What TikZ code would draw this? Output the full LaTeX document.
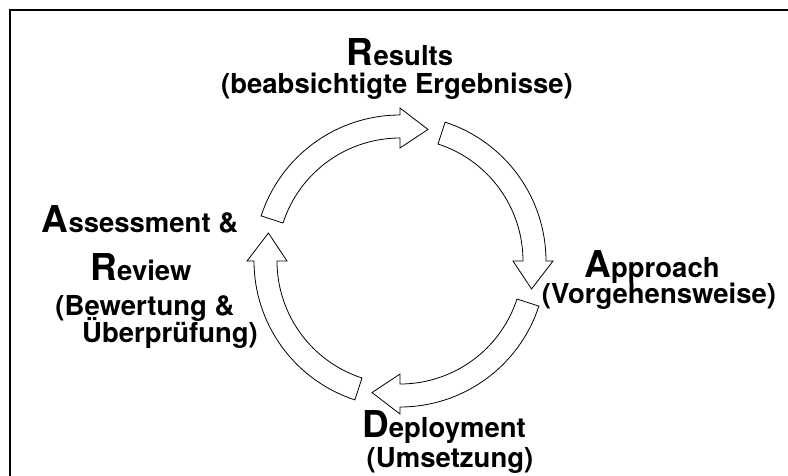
\documentclass[tikz,border=0pt]{standalone}
\usepackage{fontspec}
\setmainfont{texgyreheros}[Extension=.otf, UprightFont=*-regular, BoldFont=*-bold]
\newcommand{\bigini}[1]{{\fontsize{37}{37}\selectfont #1}}
% curved block arrow of the cycle: #1 = angle of its tail
\newcommand{\cyclearrow}[1]{%
  \draw[cyc, shift={(400,-261)}] (#1:146) arc[start angle=#1, delta angle=-72, radius=146]
    -- ({#1-72}:153) -- ({#1-84}:134.5) -- ({#1-72}:113) -- ({#1-72}:123)
    arc[start angle={#1-72}, delta angle=72, radius=123] -- cycle;}

\begin{document}
\begin{tikzpicture}[
    x=1pt, y=1pt,
    lbl/.style={anchor=base, inner sep=0pt, font=\bfseries\fontsize{27.5}{30}\selectfont},
    cyc/.style={draw, line width=0.8pt, fill=white, line join=miter},
]
\clip (0,0) rectangle (788,-475);
\fill[white] (0,0) rectangle (788,-475);

% --- Frame ---
\draw[line width=2pt] (10,-10) rectangle (789,-482);

% --- Cycle arrows ---
\cyclearrow{162}
\cyclearrow{72}
\cyclearrow{-18}
\cyclearrow{-108}

% --- Top: Results ---
\node[lbl] (res) at (400,-65) {\bigini{R}esults};
\node[lbl] (resde) at (397,-93) {(beabsichtigte Ergebnisse)};

% --- Right: Approach ---
\node[lbl] (app) at (652,-277) {\bigini{A}pproach};
\node[lbl] (appde) at (659,-303) {(Vorgehensweise)};

% --- Bottom: Deployment ---
\node[lbl] (dep) at (444,-437) {\bigini{D}eployment};
\node[lbl] (depde) at (450,-467) {(Umsetzung)};

% --- Left: Assessment & Review ---
\node[lbl] (ass) at (140,-232) {\bigini{A}ssessment \&};
\node[lbl] (rev) at (141,-280) {\bigini{R}eview};
\node[lbl] (assde) at (145,-315) {(Bewertung \&};
\node[lbl] (assde2) at (170,-342) {Überprüfung)};

\end{tikzpicture}
\end{document}
